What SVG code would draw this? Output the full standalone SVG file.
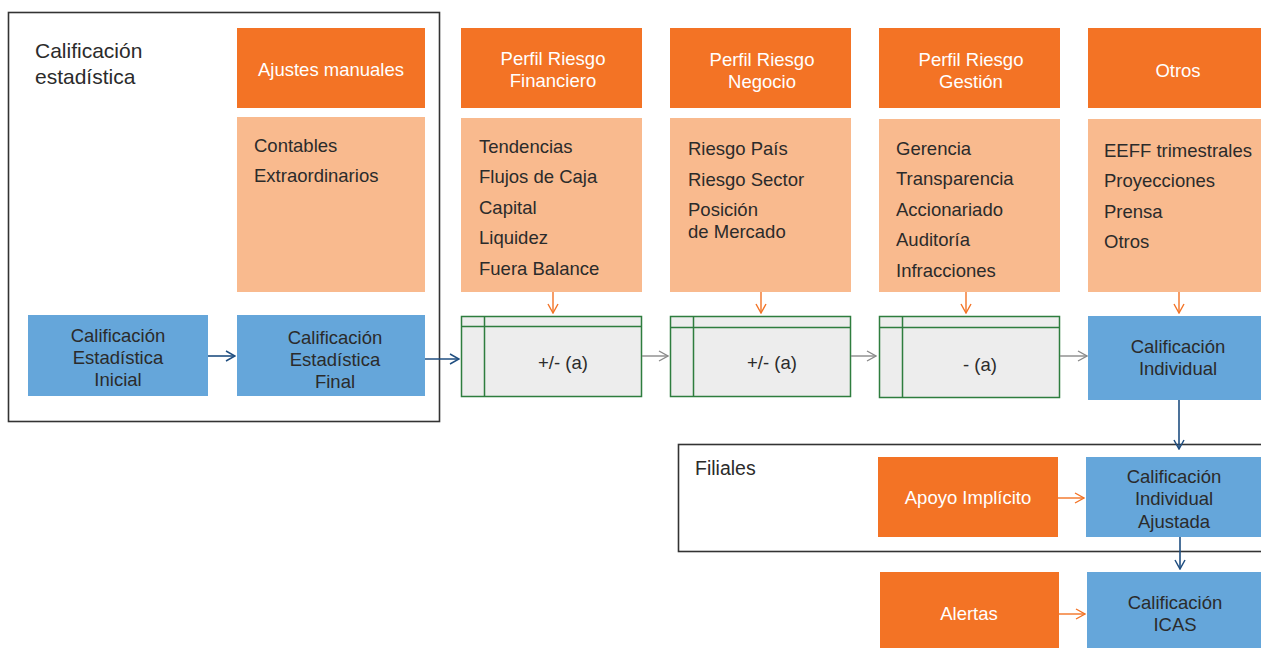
<svg xmlns="http://www.w3.org/2000/svg" width="1261" height="648" viewBox="0 0 1261 648">
<defs>
<style>
text{font-family:"Liberation Sans",Arial,Helvetica,sans-serif;font-size:18.5px;fill:#2b2b2b}
.w{fill:#ffffff}
.c{text-anchor:middle}
.or{fill:#F37325}
.lt{fill:#F9BA8E}
.bl{fill:#65A6DA}
.gb{fill:#EDEDED;stroke:#2E7D3E;stroke-width:1.5}
.gl{stroke:#2E7D3E;stroke-width:1.5;fill:none}
.frame{fill:none;stroke:#333333;stroke-width:1.6}
.ab{stroke:#1F4E80;stroke-width:1.6;fill:none}
.ag{stroke:#8A8A8A;stroke-width:1.4;fill:none}
.ao{stroke:#F37325;stroke-width:1.4;fill:none}
</style>
<marker id="mb" viewBox="0 0 12 12" refX="11" refY="6" markerWidth="12" markerHeight="12" markerUnits="userSpaceOnUse" orient="auto"><path d="M2,1 L11,6 L2,11" fill="none" stroke="#1F4E80" stroke-width="1.5"/></marker>
<marker id="mg" viewBox="0 0 12 12" refX="11" refY="6" markerWidth="12" markerHeight="12" markerUnits="userSpaceOnUse" orient="auto"><path d="M2,1 L11,6 L2,11" fill="none" stroke="#8A8A8A" stroke-width="1.4"/></marker>
<marker id="mo" viewBox="0 0 12 12" refX="11" refY="6" markerWidth="12" markerHeight="12" markerUnits="userSpaceOnUse" orient="auto"><path d="M2,1 L11,6 L2,11" fill="none" stroke="#F37325" stroke-width="1.4"/></marker>
</defs>
<rect width="1261" height="648" fill="#ffffff"/>

<g id="frame-estadistica">
<rect class="frame" x="8.5" y="12.5" width="431" height="409"/>
<text x="35" y="58" style="font-size:21px">Calificación</text>
<text x="35" y="84" style="font-size:21px">estadística</text>
</g>

<g id="frame-filiales">
<rect class="frame" x="678.5" y="444.5" width="600" height="107"/>
<text x="695" y="475" style="font-size:19.5px">Filiales</text>
</g>

<g id="ajustes-manuales">
<rect class="or" x="237" y="28" width="188" height="80"/>
<text class="w c" x="331" y="76">Ajustes manuales</text>
</g>
<g id="ajustes-lista">
<rect class="lt" x="237" y="117" width="188" height="175"/>
<text x="254" y="152">Contables</text>
<text x="254" y="182">Extraordinarios</text>
</g>

<g id="cal-inicial">
<rect class="bl" x="28" y="315" width="180" height="81"/>
<text class="c" x="118" y="342">Calificación</text>
<text class="c" x="118" y="364">Estadística</text>
<text class="c" x="118" y="386">Inicial</text>
</g>
<g id="cal-final">
<rect class="bl" x="237" y="315" width="188" height="81"/>
<text class="c" x="335" y="344">Calificación</text>
<text class="c" x="335" y="366">Estadística</text>
<text class="c" x="335" y="388">Final</text>
</g>

<g id="perfil-financiero">
<rect class="or" x="461" y="28" width="181" height="80"/>
<text class="w c" x="553" y="65">Perfil Riesgo</text>
<text class="w c" x="553" y="87">Financiero</text>
</g>
<g id="financiero-lista">
<rect class="lt" x="461" y="118" width="181" height="174"/>
<text x="479" y="153">Tendencias</text>
<text x="479" y="183">Flujos de Caja</text>
<text x="479" y="214">Capital</text>
<text x="479" y="244">Liquidez</text>
<text x="479" y="275">Fuera Balance</text>
</g>
<g id="ajuste-financiero">
<rect class="gb" x="461.5" y="316.5" width="180" height="80"/>
<path class="gl" d="M461.5,326.5 H641.5 M484.5,316.5 V396.5"/>
<text class="c" x="563" y="369">+/- (a)</text>
</g>

<g id="perfil-negocio">
<rect class="or" x="670" y="28" width="181" height="80"/>
<text class="w c" x="762" y="66">Perfil Riesgo</text>
<text class="w c" x="762" y="88">Negocio</text>
</g>
<g id="negocio-lista">
<rect class="lt" x="670" y="118" width="181" height="174"/>
<text x="688" y="155">Riesgo País</text>
<text x="688" y="186">Riesgo Sector</text>
<text x="688" y="216">Posición</text>
<text x="688" y="238">de Mercado</text>
</g>
<g id="ajuste-negocio">
<rect class="gb" x="670.5" y="316.5" width="180" height="80"/>
<path class="gl" d="M670.5,327.5 H850.5 M693.5,316.5 V396.5"/>
<text class="c" x="772" y="369">+/- (a)</text>
</g>

<g id="perfil-gestion">
<rect class="or" x="879" y="28" width="181" height="80"/>
<text class="w c" x="971" y="66">Perfil Riesgo</text>
<text class="w c" x="971" y="88">Gestión</text>
</g>
<g id="gestion-lista">
<rect class="lt" x="879" y="119" width="181" height="173"/>
<text x="896" y="155">Gerencia</text>
<text x="896" y="185">Transparencia</text>
<text x="896" y="216">Accionariado</text>
<text x="896" y="246">Auditoría</text>
<text x="896" y="277">Infracciones</text>
</g>
<g id="ajuste-gestion">
<rect class="gb" x="879.5" y="316.5" width="180" height="81"/>
<path class="gl" d="M879.5,327.5 H1059.5 M902.5,316.5 V397.5"/>
<text class="c" x="980" y="371">- (a)</text>
</g>

<g id="otros">
<rect class="or" x="1088" y="28" width="180" height="80"/>
<text class="w c" x="1178" y="77">Otros</text>
</g>
<g id="otros-lista">
<rect class="lt" x="1088" y="119" width="180" height="173"/>
<text x="1104" y="157">EEFF trimestrales</text>
<text x="1104" y="187">Proyecciones</text>
<text x="1104" y="218">Prensa</text>
<text x="1104" y="248">Otros</text>
</g>
<g id="cal-individual">
<rect class="bl" x="1088" y="316" width="180" height="84"/>
<text class="c" x="1178" y="353">Calificación</text>
<text class="c" x="1178" y="375">Individual</text>
</g>

<g id="apoyo-implicito">
<rect class="or" x="878" y="457" width="180" height="80"/>
<text class="w c" x="968" y="504">Apoyo Implícito</text>
</g>
<g id="cal-ajustada">
<rect class="bl" x="1086" y="457" width="180" height="80"/>
<text class="c" x="1174" y="483">Calificación</text>
<text class="c" x="1174" y="505">Individual</text>
<text class="c" x="1174" y="528">Ajustada</text>
</g>

<g id="alertas">
<rect class="or" x="880" y="572" width="179" height="80"/>
<text class="w c" x="969" y="620">Alertas</text>
</g>
<g id="cal-icas">
<rect class="bl" x="1087" y="572" width="180" height="80"/>
<text class="c" x="1175" y="609">Calificación</text>
<text class="c" x="1175" y="631">ICAS</text>
</g>

<g id="connectors">
<line class="ab" x1="208" y1="356" x2="235" y2="356" marker-end="url(#mb)"/>
<line class="ab" x1="425" y1="359" x2="459" y2="359" marker-end="url(#mb)"/>
<line class="ag" x1="642" y1="356" x2="668" y2="356" marker-end="url(#mg)"/>
<line class="ag" x1="851" y1="356" x2="876" y2="356" marker-end="url(#mg)"/>
<line class="ag" x1="1060" y1="356" x2="1087" y2="356" marker-end="url(#mg)"/>
<line class="ao" x1="553" y1="292" x2="553" y2="313" marker-end="url(#mo)"/>
<line class="ao" x1="761" y1="292" x2="761" y2="313" marker-end="url(#mo)"/>
<line class="ao" x1="966" y1="292" x2="966" y2="313" marker-end="url(#mo)"/>
<line class="ao" x1="1179" y1="292" x2="1179" y2="313" marker-end="url(#mo)"/>
<line class="ab" x1="1179" y1="400" x2="1179" y2="449" marker-end="url(#mb)"/>
<line class="ab" x1="1180" y1="537" x2="1180" y2="569" marker-end="url(#mb)"/>
<line class="ao" x1="1058" y1="498" x2="1084" y2="498" marker-end="url(#mo)"/>
<line class="ao" x1="1059" y1="614" x2="1085" y2="614" marker-end="url(#mo)"/>
</g>
</svg>
